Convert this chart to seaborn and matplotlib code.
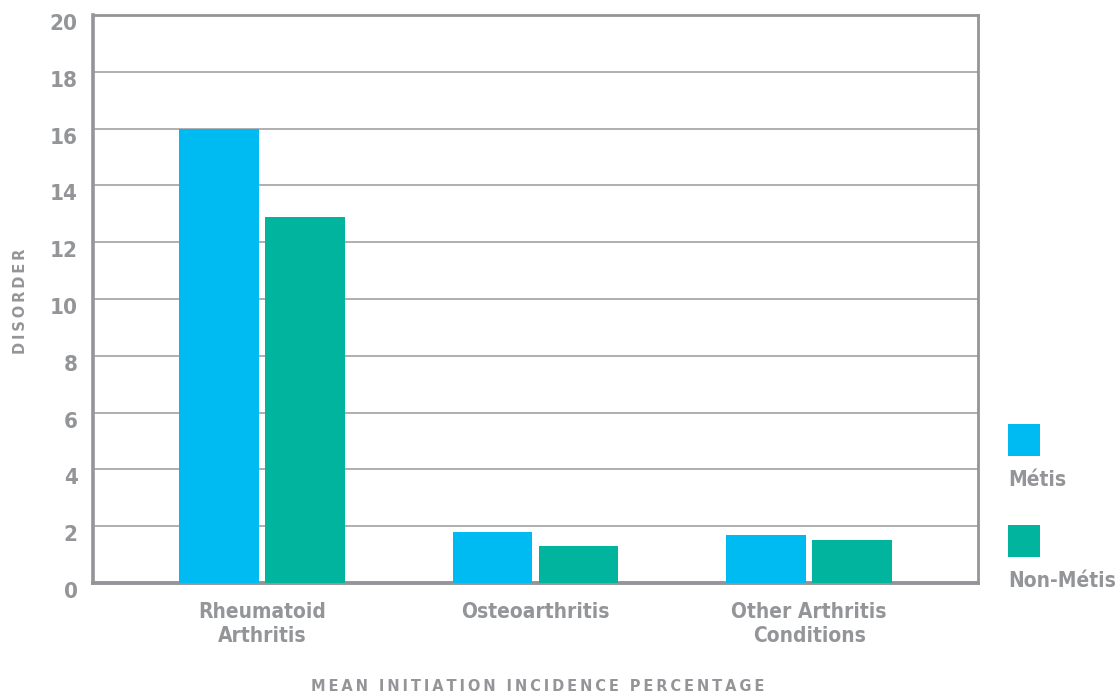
import matplotlib
matplotlib.use("Agg")
import matplotlib.pyplot as plt
from matplotlib.patches import Rectangle
from matplotlib.transforms import ScaledTranslation
import pandas as pd
import seaborn as sns

# Data
categories = ["Rheumatoid\nArthritis", "Osteoarthritis", "Other Arthritis\nConditions"]
metis = [16.0, 1.8, 1.7]
non_metis = [12.9, 1.3, 1.5]
groups = ["Métis", "Non-Métis"]
y_ticks = [0, 2, 4, 6, 8, 10, 12, 14, 16, 18, 20]

colors = {"Métis": "#00BAF2", "Non-Métis": "#00B49E"}
text_gray = "#939598"
fam = ["DejaVu Sans"]


def spaced(s, sep="\u2009"):
    """Open up the tracking of an axis title."""
    return sep.join(s)


df = pd.DataFrame({
    "category": categories * 2,
    "value": metis + non_metis,
    "group": [groups[0]] * 3 + [groups[1]] * 3,
})

sns.set_theme(style="white")
plt.rcParams["font.family"] = fam

fig = plt.figure(figsize=(11.19, 6.96), dpi=100)
ax = fig.add_axes([0.0831, 0.1624, 0.7909, 0.816])

sns.barplot(data=df, x="category", y="value", hue="group", order=categories,
            hue_order=groups, palette=colors, width=0.628, gap=0.07,
            saturation=1, legend=False, ax=ax, zorder=3, linewidth=0)

ax.set_ylim(0, 20)
ax.set_xlim(-0.617, 2.617)
ax.set_yticks(y_ticks)
ax.yaxis.grid(True, color="#a7a9ac", linewidth=1.3, zorder=0)
ax.set_axisbelow(True)

for side, lw in {"left": 2.6, "bottom": 2.8, "top": 2.0, "right": 2.0}.items():
    ax.spines[side].set_visible(True)
    ax.spines[side].set_color(text_gray)
    ax.spines[side].set_linewidth(lw)

ax.tick_params(axis="both", length=0, colors=text_gray)
ax.tick_params(axis="y", pad=11, labelsize=16)
ax.tick_params(axis="x", pad=14, labelsize=15)
shift_down = ScaledTranslation(0, -0.07, fig.dpi_scale_trans)
for lbl in ax.get_yticklabels():
    lbl.set_transform(lbl.get_transform() + shift_down)
for lbl in ax.get_yticklabels() + ax.get_xticklabels():
    lbl.set_fontweight("bold")
    lbl.set_fontstretch("condensed")
for lbl in ax.get_xticklabels():
    lbl.set_linespacing(1.2)

ax.set_xlabel("")
ax.set_ylabel("")
fig.text(0.4808, 0.003, spaced("MEAN INITIATION INCIDENCE PERCENTAGE"),
         ha="center", va="bottom", color=text_gray, fontsize=10.5, fontweight="bold")
fig.text(0.018, 0.5675, spaced("DISORDER"), rotation=90, ha="center", va="center",
         color=text_gray, fontsize=10.5, fontweight="bold")

# Legend: colour square with its label underneath
W, H = 1119, 696
for i, g in enumerate(groups):
    top = 424 + i * 101
    fig.add_artist(Rectangle((1008 / W, 1 - (top + 32) / H), 32 / W, 32 / H,
                             transform=fig.transFigure, color=colors[g], lw=0))
    fig.text(1008 / W, 1 - (top + 56) / H, g, ha="left", va="center",
             color=text_gray, fontsize=15, fontweight="bold", fontstretch="condensed")

fig.savefig("out.png", dpi=100)
